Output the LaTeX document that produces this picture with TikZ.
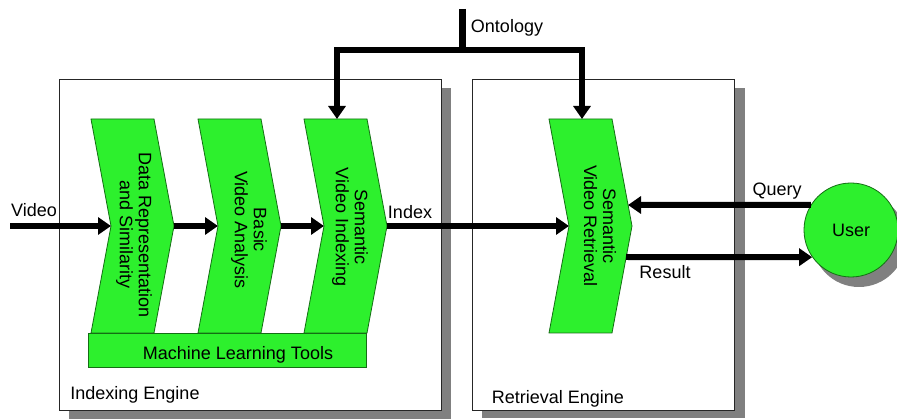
\documentclass[tikz,border=0pt]{standalone}
\usepackage{fontspec}
\setmainfont{Liberation Sans}
\usetikzlibrary{arrows.meta,positioning,calc}
\definecolor{stagegreen}{RGB}{45,240,45}
\definecolor{stageedge}{RGB}{20,110,20}
\definecolor{shadegray}{RGB}{128,128,128}

\tikzset{
  stage/.style={fill=stagegreen, draw=stageedge, line width=0.8pt},
  flow/.style={line width=6pt, line join=miter, -{Triangle[length=13pt,width=17pt]}},
  engine/.style={draw=black!85, fill=white, line width=0.9pt},
  shade/.style={fill=shadegray, draw=none},
  lbl/.style={font=\fontsize{18}{19}\selectfont, inner sep=0pt},
}

% chevron: name, left x, text x, text y, text
\newcommand{\stagebox}[5]{%
  \draw[stage] (#2,119) -- ++(63,0) -- ++(20,107) -- ++(-20,107) -- ++(-63,0) -- ++(20,-107) -- cycle;
  \coordinate (#1-in) at (#2+20,226);
  \coordinate (#1-out) at (#2+83,226);
  \coordinate (#1-top) at (#2+33,119);
  \node[lbl, rotate=-90, align=center] (#1) at (#3,#4) {#5};
}

\begin{document}
\begin{tikzpicture}[x=1pt, y=-1pt]
    \useasboundingbox (0,0) rectangle (897,419);

    % 1. Engine boxes with shadows
    \fill[shade] (69,88) rectangle (451,419);
    \draw[engine] (59,79) rectangle (441,410);
    \fill[shade] (482,88) rectangle (745,418);
    \draw[engine] (472,79) rectangle (734,410);
    \node[lbl] (idxengine) at (135,395) {Indexing Engine};
    \node[lbl] (retengine) at (558,399) {Retrieval Engine};

    % 2. Stages
    \stagebox{drs}{91}{134}{235}{Data Representation\\and Similarity}
    \stagebox{bva}{198}{249}{230}{Basic\\Video Analysis}
    \stagebox{svi}{304}{350}{227}{Semantic\\Video Indexing}
    \stagebox{svr}{549}{600}{226}{Semantic\\Video Retrieval}

    % 3. Machine learning bar
    \draw[stage] (88,333) rectangle (366,367);
    \node[lbl] (mlt) at (238,355) {Machine Learning Tools};

    % 4. User
    \fill[shade] (859,240) circle (47);
    \node[circle, stage, minimum size=94pt, lbl] (user) at (851,230) {User};

    % 5. Flow arrows
    \coordinate (vin) at (10,226);
    \node[lbl] (videotxt) at (34,210) {Video};
    \draw[flow] (vin) -- (drs-in);
    \draw[flow] (drs-out) -- (bva-in);
    \draw[flow] (bva-out) -- (svi-in);
    \node[lbl] (indextxt) at (410,212) {Index};
    \draw[flow] (svi-out) -- (svr-in);

    % 6. Ontology
    \coordinate (ont) at (462,9);
    \coordinate (split) at (462,50);
    \node[lbl] (onttxt) at (507,28) {Ontology};
    \draw[line width=7pt] (ont) -- (split);
    \draw[flow] (split) -| (svi-top);
    \draw[flow] (split) -| (svr-top);

    % 7. Query and result
    \coordinate (svr-q) at (628,205);
    \coordinate (svr-r) at (626,257);
    \node[lbl] (querytxt) at (777,191) {Query};
    \node[lbl] (resulttxt) at (665,272) {Result};
    \draw[flow] (user.148) -- (svr-q);
    \draw[flow] (svr-r) -- (user.215);

\end{tikzpicture}
\end{document}
